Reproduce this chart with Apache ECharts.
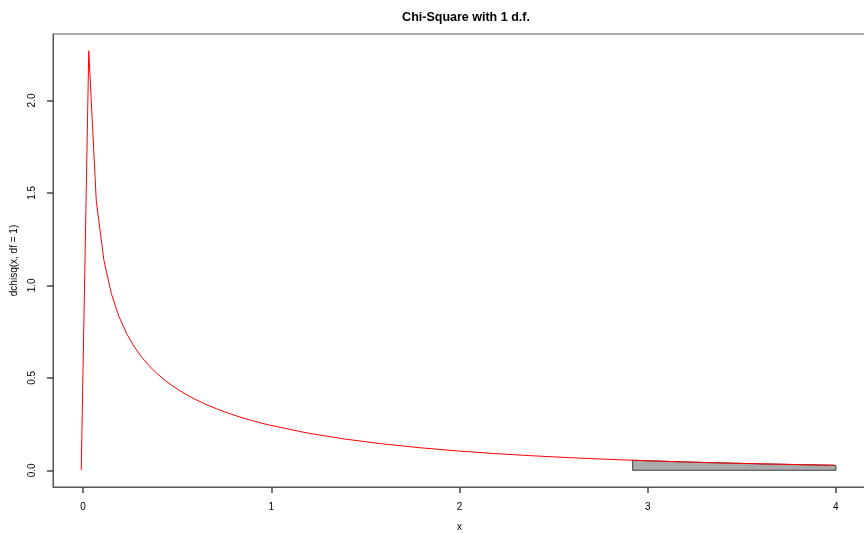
<!DOCTYPE html>
<html>
<head>
<meta charset="utf-8">
<title>Chi-Square with 1 d.f.</title>
<script src="https://cdn.jsdelivr.net/npm/echarts@6/dist/echarts.min.js"></script>
<style>
    html, body { margin: 0; padding: 0; background: #fff; }
    #chart { width: 864px; height: 533px; }
</style>
</head>
<body>
<div id="chart"></div>
<script>
    // density curve
    var curveX = [-0.01, 0.03, 0.07, 0.11, 0.15, 0.19, 0.23, 0.27, 0.31, 0.35, 0.39, 0.43, 0.47, 0.51,
        0.55, 0.59, 0.63, 0.67, 0.71, 0.75, 0.79, 0.83, 0.87, 0.91, 0.95, 0.99,
        1.19, 1.39, 1.59, 1.79, 1.99, 2.19, 2.39, 2.59, 2.79, 2.99, 3.19, 3.39, 3.59, 3.79, 3.99];
    var curveY = [0, 2.269, 1.456, 1.1385, 0.9556, 0.8323, 0.7415, 0.6708, 0.6136, 0.5661, 0.5256, 0.4907, 0.4600, 0.4329,
        0.4086, 0.3867, 0.3668, 0.3486, 0.3320, 0.3166, 0.3024, 0.2892, 0.2768, 0.2653, 0.2545, 0.2444,
        0.2017, 0.1689, 0.1429, 0.1218, 0.1046, 0.0902, 0.0781, 0.0679, 0.0592, 0.0517, 0.0453, 0.0398, 0.0350, 0.0308, 0.0272];

    // shaded tail
    var tailX = [2.92, 3.0, 3.2, 3.4, 3.6, 3.8, 4.0];
    var tailY = [0.0542, 0.0514, 0.0450, 0.0395, 0.0348, 0.0306, 0.0270];

    var xTicks = [0, 1, 2, 3, 4];
    var yTicks = [0, 0.5, 1, 1.5, 2];

    var curveData = curveX.map(function (x, i) { return [x, curveY[i]]; });
    var tailData = [[tailX[0], 0]];
    tailX.forEach(function (x, i) { tailData.push([x, tailY[i]]); });
    tailData.push([tailX[tailX.length - 1], 0]);
    tailData.push([tailX[0], 0]);

    var font = '"Liberation Sans", Arial, sans-serif';
    var myChart = echarts.init(document.getElementById('chart'));
    myChart.setOption({
        animation: false,
        title: {
            text: 'Chi-Square with 1 d.f.',
            left: 461,
            top: 6,
            textAlign: 'center',
            textStyle: {fontFamily: font, fontSize: 12.5, fontWeight: 'bold', color: '#000'}
        },
        grid: {
            left: 53, top: 34, width: 813, height: 453,
            outerBoundsMode: 'none',
            show: true, borderColor: '#555', borderWidth: 1, backgroundColor: 'transparent'
        },
        xAxis: {
            type: 'value',
            min: -0.16, max: 4.16,
            name: 'x',
            nameLocation: 'middle',
            nameGap: 35,
            nameTextStyle: {fontFamily: font, fontSize: 10, color: '#000'},
            axisLine: {show: true, onZero: false, lineStyle: {color: '#555'}},
            splitLine: {show: false},
            axisTick: {show: true, length: 6, customValues: xTicks, lineStyle: {color: '#444', width: 1.5}},
            axisLabel: {customValues: xTicks, margin: 15, fontFamily: font, fontSize: 10, color: '#000'}
        },
        yAxis: {
            type: 'value',
            min: -0.0905, max: 2.3595,
            name: 'dchisq(x, df = 1)',
            nameLocation: 'middle',
            nameGap: 34,
            nameRotate: 90,
            nameTextStyle: {fontFamily: font, fontSize: 10, color: '#000'},
            axisLine: {show: true, onZero: false, lineStyle: {color: '#555'}},
            splitLine: {show: false},
            axisTick: {show: true, length: 6, customValues: yTicks, lineStyle: {color: '#444', width: 1.5}},
            axisLabel: {
                customValues: yTicks, rotate: 90, margin: 16,
                fontFamily: font, fontSize: 10, color: '#000',
                formatter: function (v) { return v.toFixed(1); }
            }
        },
        series: [
            {
                type: 'line',
                data: tailData,
                symbol: 'none',
                lineStyle: {color: '#444', width: 1},
                areaStyle: {color: '#aaaaaa', opacity: 1},
                z: 2
            },
            {
                type: 'line',
                data: curveData,
                symbol: 'none',
                lineStyle: {color: '#ff0000', width: 1},
                z: 3
            }
        ]
    });
</script>
</body>
</html>
